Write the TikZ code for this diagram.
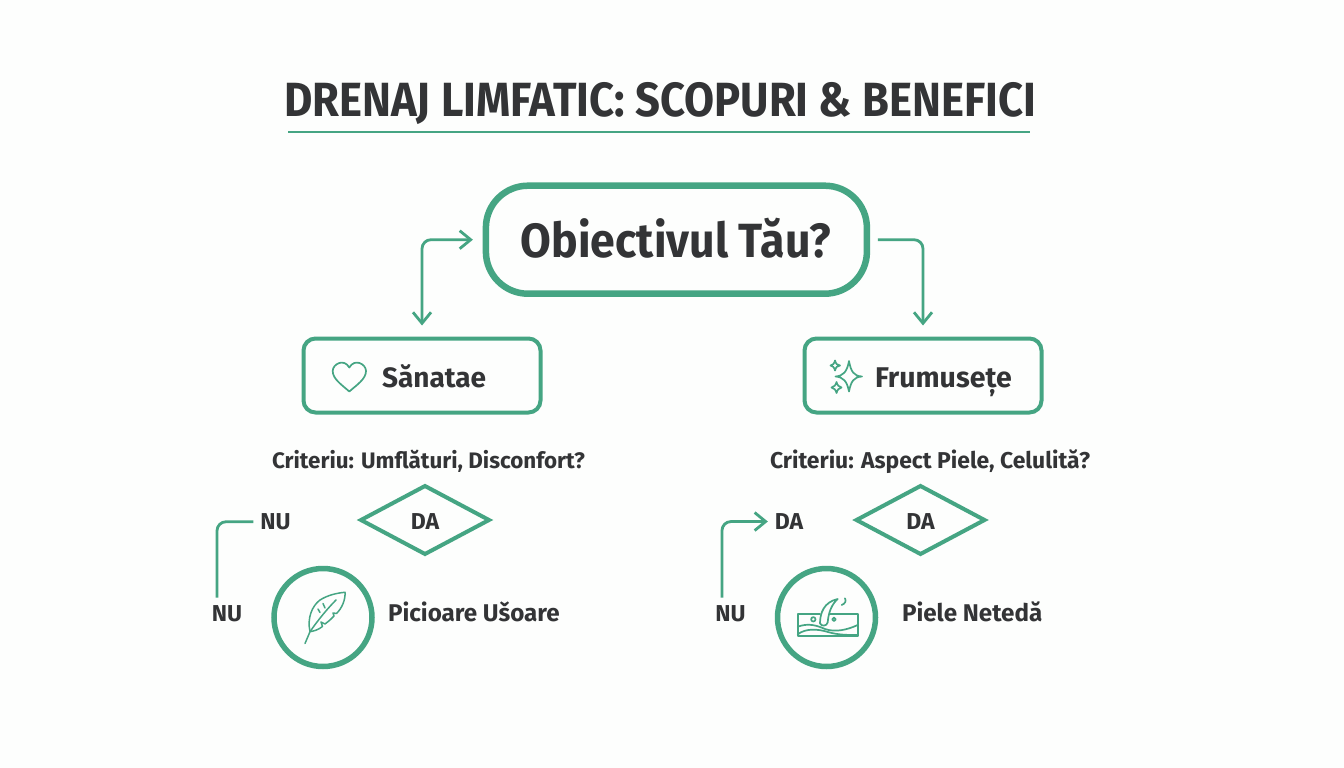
\documentclass[tikz,border=0pt]{standalone}
\usepackage{fontspec}
\setmainfont{Fira Sans}
\usetikzlibrary{shapes.geometric,arrows.meta,calc}
\definecolor{grn}{HTML}{45A583}
\definecolor{ink}{HTML}{333436}
\definecolor{bg}{HTML}{FDFEFD}
\tikzset{
  lbl/.style={text=ink,inner sep=0pt,outer sep=0pt,font=\fontsize{#1}{#1}\selectfont\bfseries},
  box/.style={draw=grn,line width=4pt,rounded corners=12pt,minimum width=237pt,minimum height=74pt,inner sep=0pt,outer sep=0pt},
  dec/.style={draw=grn,line width=4pt,diamond,aspect=1.83,minimum width=128pt,minimum height=68pt,inner sep=0pt,outer sep=0pt},
  ring/.style={draw=grn,line width=5.5pt,circle,minimum size=98pt,inner sep=0pt,outer sep=0pt},
  tip/.style={-{Straight Barb[length=11pt,width=18pt,line width=2.8pt]}},
  conn/.style={draw=grn,line width=2.8pt,rounded corners=9pt},
  ico/.style={draw=grn,line width=1.7pt,line join=round,line cap=round},
}
\begin{document}
\begin{tikzpicture}[x=1pt,y=-1pt]
\useasboundingbox (0,0) rectangle (1344,768);
\fill[bg] (0,0) rectangle (1344,768);
% title
\node[lbl=48,anchor=base] (title) at (660,116) {\scalebox{0.908}[1]{DRENAJ LIMFATIC: SCOPURI \& BENEFICI}};
\coordinate (ulL) at (288,132);
\coordinate (ulR) at (1030,132);
\draw[grn,line width=2.8pt] (ulL) -- (ulR);
% main
\node[draw=grn,line width=6.5pt,rounded corners=42pt,minimum width=381pt,minimum height=108pt,inner sep=0pt,outer sep=0pt] (main) at (676.4,239.7) {};
\node[lbl=48,anchor=base] (maint) at (676,257) {\scalebox{0.93}[1]{Obiectivul Tău?}};
% boxes
\node[box] (san) at (422,375.5) {};
\node[box] (fru) at (923,375.5) {};
\node[lbl=28,anchor=base west] (sant) at (382,387) {Sănatae};
\node[lbl=28.5,anchor=base west] (frut) at (875,387) {Frumusețe};
% connectors
\draw[conn,{Straight Barb[length=11pt,width=18pt,line width=2.8pt]}-{Straight Barb[length=11pt,width=18pt,line width=2.8pt]},shorten <=13pt,shorten >=13pt] (main.west) -| (san.north);
\draw[conn,tip,shorten <=11pt,shorten >=13pt] (main.east) -| (fru.north);
% criteria
\node[lbl=22.4,anchor=base] (crL) at (428.5,468.5) {Criteriu: Umflături, Disconfort?};
\node[lbl=22.9,anchor=base] (crR) at (930,468.5) {Criteriu: Aspect Piele, Celulită?};
% diamonds
\node[dec] (dL) at (425,520) {};
\node[dec] (dR) at (920.5,520) {};
\node[lbl=23,anchor=base] (dLt) at (dL |- 0,529.5) {DA};
\node[lbl=23,anchor=base] (dRt) at (dR |- 0,529.5) {DA};
% side labels
\node[lbl=23,anchor=base] (nuA) at (275.5,529.5) {NU};
\node[lbl=23,anchor=base] (nuB) at (227,621.5) {NU};
\node[lbl=23,anchor=base] (daA) at (789,529.5) {DA};
\node[lbl=23,anchor=base] (nuC) at (730.5,621.5) {NU};
\draw[conn] ([xshift=-10pt,yshift=8pt]nuB.north) |- ([xshift=-7pt]nuA.west);
\draw[conn,tip] ([xshift=-8.5pt,yshift=8pt]nuC.north) |- ([xshift=-7pt]daA.west);
% rings
\node[ring] (rL) at (323,617.5) {};
\node[ring] (rR) at (826.5,617.5) {};
\node[lbl=24.2,anchor=base west] (pL) at (388,621.5) {Picioare Ušoare};
\node[lbl=24.2,anchor=base west] (pR) at (902,621.5) {Piele Netedă};
% heart
\draw[ico] (349.3,391.5) .. controls (342,385) and (332.7,379) .. (332.7,371) .. controls (332.7,364) and (344,358) .. (349.3,367.5) .. controls (354.7,358) and (366,364) .. (366,371) .. controls (366,379) and (356.7,385) .. (349.3,391.5) -- cycle;
% sparkles
\draw[ico] (849,361) .. controls (851,372) and (854,376) .. (862,376.5) .. controls (854,377) and (851,381) .. (849,391.5) .. controls (847,381) and (843,377) .. (835.5,376.5) .. controls (843,376) and (847,372) .. (849,361) -- cycle;
\draw[ico] (835,360.5) .. controls (836,364) and (837,365) .. (840,365.5) .. controls (837,366) and (836,367) .. (835,370.5) .. controls (834,367) and (833,366) .. (830.5,365.5) .. controls (833,365) and (834,364) .. (835,360.5) -- cycle;
\draw[ico] (836.5,382) .. controls (837.5,385.5) and (838.5,386.5) .. (841.5,387.5) .. controls (838.5,388.5) and (837.5,389.5) .. (836.5,393) .. controls (835.5,389.5) and (834.5,388.5) .. (831.5,387.5) .. controls (834.5,386.5) and (835.5,385.5) .. (836.5,382) -- cycle;
% feather
\begin{scope}[ico,line width=1.5pt]
\draw (305,643.5) -- (310,631.7) .. controls (318,620) and (328,608) .. (336,600);
\draw (310,631.7) .. controls (307,618) and (312,606) .. (320,600) .. controls (328,595) and (337,593) .. (345,592.3) .. controls (345.5,600) and (342,608) .. (336.5,613.5) -- (333,613) -- (334,616) .. controls (330,620) and (328,622) .. (325,624) -- (321,622) -- (322.5,626.5) .. controls (318,630) and (314,631) .. (310,631.7);
\draw (323,603.5) -- (325,608);
\draw (318,609) -- (320,612.5);
\end{scope}
% skin
\begin{scope}[ico,line width=1.7pt]
\draw (820,614.3) -- (797.7,614.3) -- (797.7,635.7) -- (857.7,635.7) -- (857.7,614.3) -- (829,614.3);
\draw (797.7,626.7) .. controls (808,623) and (816,625) .. (825,629) .. controls (835,632.5) and (847,630) .. (857.7,625);
\draw (797.7,634.3) .. controls (806,628) and (818,629) .. (828,632) .. controls (838,635) and (848,635) .. (857.7,635);
\draw[fill=bg] (820,623.3) .. controls (820,613) and (824,602) .. (837.7,599) .. controls (832,604) and (828.5,612) .. (827.7,622.3) .. controls (827,626.5) and (821,626.5) .. (820,623.3) -- cycle;
\draw (841.7,605) .. controls (845,603.5) and (846.5,601.5) .. (845,598.3);
\draw (813.3,619.3) circle[radius=2.2];
\draw (834,619.3) circle[radius=1.8];
\end{scope}
\end{tikzpicture}
\end{document}
